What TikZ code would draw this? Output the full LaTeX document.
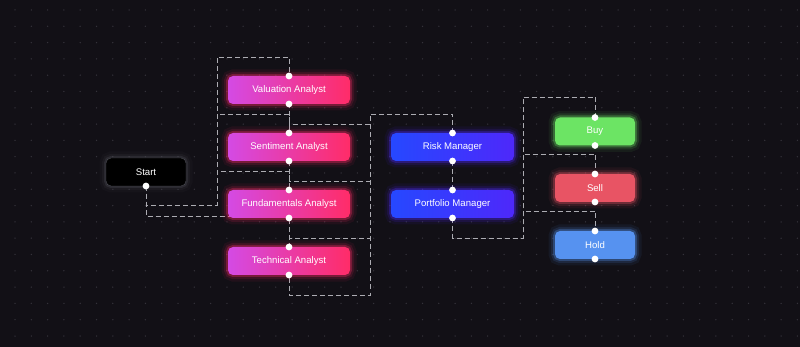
\documentclass[tikz,border=0pt]{standalone}
\usepackage{fontspec}
\setmainfont{Liberation Sans}
\usetikzlibrary{arrows.meta}

\definecolor{bgcol}{RGB}{18,16,22}
\definecolor{dotcol}{RGB}{52,50,58}
\definecolor{edgecol}{RGB}{172,172,178}
\definecolor{anaL}{RGB}{212,74,228}
\definecolor{anaR}{RGB}{255,44,104}
\definecolor{mgrL}{RGB}{38,72,255}
\definecolor{mgrR}{RGB}{78,40,250}
\definecolor{buycol}{RGB}{108,228,100}
\definecolor{sellcol}{RGB}{232,84,100}
\definecolor{holdcol}{RGB}{86,146,240}
\definecolor{startbd}{RGB}{78,78,86}

\pgfdeclarelayer{grid}
\pgfdeclarelayer{edges}
\pgfsetlayers{grid,edges,main}

\begin{document}
\begin{tikzpicture}[
        x=1pt, y=-1pt,
        every node/.style={
            rounded corners=5pt,
            minimum height=28pt,
            inner sep=0pt, outer sep=0pt,
            align=center,
            text=white,
            font=\fontsize{9.6}{11}\selectfont
        },
        glow/.style={
            preaction={draw=#1, line width=13pt, opacity=0.07},
            preaction={draw=#1, line width=8pt, opacity=0.13},
            preaction={draw=#1, line width=4pt, opacity=0.3}
        },
        analyst/.style={minimum width=122pt, left color=anaL, right color=anaR, glow=anaR},
        manager/.style={minimum width=123pt, left color=mgrL, right color=mgrR, glow=mgrR},
        action/.style={minimum width=80pt, fill=#1, glow=#1},
        edge/.style={draw=edgecol, line width=0.9pt, dash pattern=on 5pt off 3pt},
        handle/.style={fill=white}
    ]

        % hintergrund
        \begin{pgfonlayer}{grid}
        \fill[bgcol] (0,0) rectangle (800,347);
        \foreach \i in {0,...,48}
            \foreach \j in {0,...,20}
                \fill[dotcol] (15+\i*16.3, 10+\j*16.3) circle (0.75pt);
        \end{pgfonlayer}

        % knoten
        \node[fill=black, draw=startbd, minimum width=80pt, glow=startbd] (start) at (146,172) {Start};

        \node[analyst] (val) at (289,90) {Valuation Analyst};
        \node[analyst] (sent) at (289,147) {Sentiment Analyst};
        \node[analyst] (fund) at (289,204) {Fundamentals Analyst};
        \node[analyst] (tech) at (289,261) {Technical Analyst};

        \node[manager] (risk) at (452.5,147) {Risk Manager};
        \node[manager] (port) at (452.5,204) {Portfolio Manager};

        \node[action=buycol] (buy) at (595,131.5) {Buy};
        \node[action=sellcol] (sell) at (595,188) {Sell};
        \node[action=holdcol] (hold) at (595,245) {Hold};

        % spojnice
        \begin{pgfonlayer}{edges}
        \draw[edge] (start.south) -- ++(0,19) -| (217,57) -| (val.north);
        \draw[edge] (start.south) -- ++(0,19) -| (217,114) -| (sent.north);
        \draw[edge] (start.south) -- ++(0,19) -| (217,171) -| (fund.north);
        \draw[edge] (start.south) -- ++(0,30.5) -| (tech.north);

        \draw[edge] (risk.north) |- (370,114) |- ([yshift=-20pt]val.south) -- (val.south);
        \draw[edge] (risk.north) |- (370,114) |- ([yshift=-20pt]sent.south) -- (sent.south);
        \draw[edge] (risk.north) |- (370,114) |- ([yshift=-20pt]fund.south) -- (fund.south);
        \draw[edge] (risk.north) |- (370,114) |- ([yshift=-20pt]tech.south) -- (tech.south);

        \draw[edge] (risk.south) -- (port.north);

        \draw[edge] (port.south) -- ++(0,20) -| (523,97) -| (buy.north);
        \draw[edge] (port.south) -- ++(0,20) -| (523,154) -| (sell.north);
        \draw[edge] (port.south) -- ++(0,20) -| (523,211) -| (hold.north);
        \end{pgfonlayer}

        % handles
        \fill[handle] (start.south) circle (3.4pt);
        \foreach \n in {val,sent,fund,tech,risk,port,buy,sell,hold} {
            \fill[handle] (\n.north) circle (3.4pt);
            \fill[handle] (\n.south) circle (3.4pt);
        }

    \end{tikzpicture}
\end{document}
